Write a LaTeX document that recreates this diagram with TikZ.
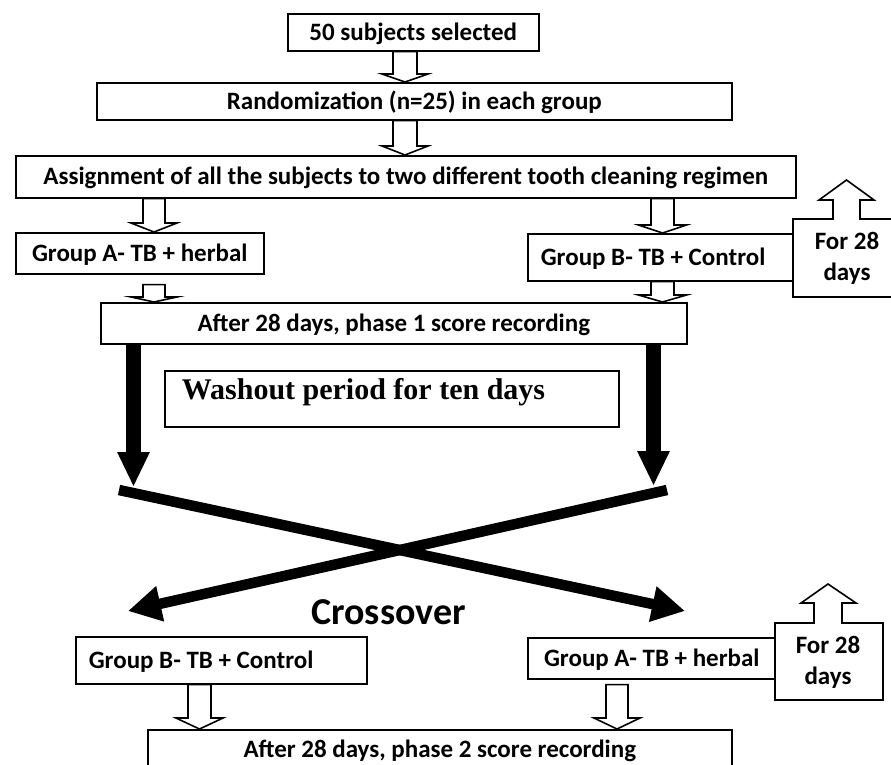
\documentclass[tikz,border=0pt]{standalone}
\usepackage{fontspec}
\setmainfont{Carlito}
\newfontfamily\timesfont{Liberation Serif}
\usetikzlibrary{arrows.meta,calc}
\tikzset{
  box/.style={draw, line width=1.6pt, fill=white, inner sep=0pt, anchor=north west,
    font=\fontsize{25}{31}\selectfont\bfseries, text height=16pt, text depth=0pt},
  leftbox/.style={box, inner xsep=13pt},
  hollowarrow/.style={draw, line width=1.6pt, fill=white, line join=miter},
  thickarrow/.style={line width=15pt, -{Triangle[width=30pt,length=35pt]}},
  crossline/.style={line width=10.5pt, -{Triangle[width=34pt,length=33pt]}},
  calltext/.style={inner sep=0pt, align=center, font=\fontsize{25}{31}\selectfont\bfseries},
  callout/.style={draw, line width=1.6pt, fill=white, line join=miter}
}
\newcommand\hollow[7]{%
  \draw[hollowarrow] let \p1=(#2.south), \p2=(#3.north) in
   (#1pt-#4pt,\y1-#7pt) -- (#1pt-#4pt,\y2+#6pt) -- (#1pt-#5pt,\y2+#6pt) -- (#1pt,\y2)
   -- (#1pt+#5pt,\y2+#6pt) -- (#1pt+#4pt,\y2+#6pt) -- (#1pt+#4pt,\y1-#7pt) -- cycle;}
\begin{document}
\begin{tikzpicture}[x=1pt,y=-1pt]
\useasboundingbox (0,0) rectangle (891,764);
\clip (0,0) rectangle (891,764);
\fill[white] (0,0) rectangle (891,764);

% top part
\node[box, minimum width=251pt, minimum height=37pt] (b1) at (287,13) {50 subjects selected};
\node[box, minimum width=635pt, minimum height=37pt] (b2) at (96,82) {Randomization (n=25) in each group};
\node[box, minimum width=780pt, minimum height=42pt] (b3) at (15,155) {Assignment of all the subjects to two different tooth cleaning regimen};
\node[box, minimum width=248pt, minimum height=41pt] (ga1) at (15,232) {Group A- TB + herbal};
\node[leftbox, minimum height=47pt] (gb1) at (527,233) {\makebox[240pt][l]{Group B- TB + Control}};
\node[box, minimum width=586pt, minimum height=41pt] (p1) at (100,302) {After 28 days, phase 1 score recording};

\hollow{405}{b1}{b2}{12}{23}{8}{0}
\hollow{405}{b2}{b3}{12}{23}{9}{0}
\hollow{154}{b3}{ga1}{11}{23}{9}{0}
\hollow{662.5}{b3}{gb1}{11.5}{24}{8}{0}
\hollow{154}{ga1}{p1}{11}{23}{5}{10}
\hollow{662.5}{gb1}{p1}{11.5}{24}{7}{0}

% top callout
\draw[callout] (793,297) -- (793,219) -- (833,219) -- (833,200) -- (819,200) -- (846.5,180)
  -- (874,200) -- (860,200) -- (860,219) -- (905,219) -- (905,297) -- cycle;
\node[calltext] (c1) at (847,258) {For 28\\days};

% washout
\node[box, font=\fontsize{30}{34}\selectfont\bfseries\timesfont, inner xsep=17pt,
  minimum height=56pt, text height=21pt, text depth=19pt] (wash) at (164,370)
  {\makebox[420pt][l]{Washout period for ten days}};

% thick arrows
\coordinate (tl) at (133.5,487);
\coordinate (tr) at (653.5,486);
\draw[thickarrow] (tl |- p1.south) -- (tl);
\draw[thickarrow] (tr |- p1.south) -- (tr);

% crossing arrows
\coordinate (x1s) at (119,490);
\coordinate (x1e) at (685,611);
\coordinate (x2s) at (667,490);
\coordinate (x2e) at (128,611);
\draw[crossline] (x1s) -- (x1e);
\draw[crossline] (x2s) -- (x2e);

\node[anchor=base, inner sep=0pt, font=\fontsize{38}{40}\selectfont\bfseries] (cross) at (388.5,624) {Crossover};

% bottom part
\node[leftbox, minimum height=47pt] (gb2) at (75,636) {\makebox[265pt][l]{Group B- TB + Control}};
\node[box, minimum width=248pt, minimum height=41pt] (ga2) at (527,637) {Group A- TB + herbal};
\node[box, minimum width=584pt, minimum height=40pt] (p2) at (147,729) {After 28 days, phase 2 score recording};

\hollow{199.5}{gb2}{p2}{11.5}{23.5}{11}{0}
\hollow{617}{ga2}{p2}{11}{23}{11}{5}

% bottom callout
\draw[callout] (775,700) -- (775,623) -- (814,623) -- (814,603) -- (801,603) -- (828,584)
  -- (856,603) -- (842,603) -- (842,623) -- (883,623) -- (883,700) -- cycle;
\node[calltext] (c2) at (828,662) {For 28\\days};
\end{tikzpicture}
\end{document}
